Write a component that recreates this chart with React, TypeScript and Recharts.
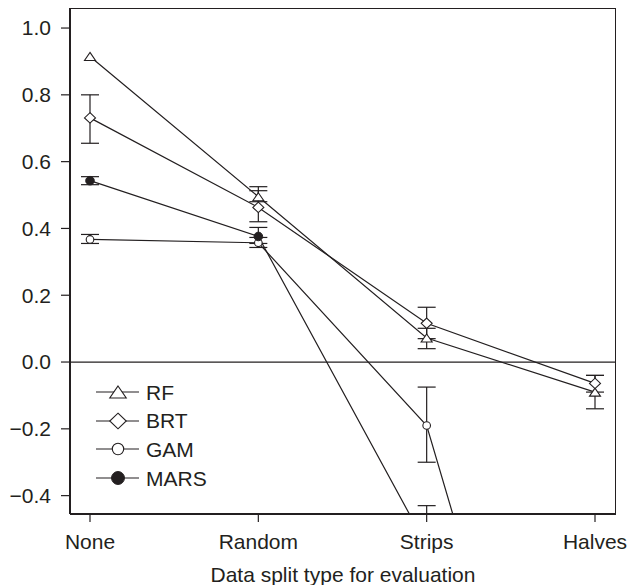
import React from 'react';
import { LineChart, Line, XAxis, YAxis, ErrorBar, ReferenceLine } from 'recharts';

const splits = ['None', 'Random', 'Strips', 'Halves'];
const yTicks = [-0.4, -0.2, 0, 0.2, 0.4, 0.6, 0.8, 1.0];

// means and error-bar bounds (null = no bar shown)
const rfMean = [0.915, 0.495, 0.072, -0.09];
const rfLow = [null, 0.48, 0.04, -0.14];
const rfHigh = [null, 0.525, 0.101, -0.04];

const brtMean = [0.731, 0.463, 0.116, -0.064];
const brtLow = [0.655, 0.42, 0.07, -0.09];
const brtHigh = [0.8, 0.513, 0.164, -0.04];

const gamMean = [0.367, 0.357, -0.19, -1.9];
const gamLow = [0.355, 0.343, -0.3, -2.0];
const gamHigh = [0.382, 0.373, -0.075, -1.8];

const marsMean = [0.543, 0.376, -0.55, -1.2];
const marsLow = [0.531, 0.355, -0.67, -1.3];
const marsHigh = [0.555, 0.403, -0.43, -1.1];

const INK = '#231f20';
const FONT = 'Liberation Sans, Arial, sans-serif';

// plot box (chart margins + axis sizes)
const BOX = { left: 70, top: 8, width: 546, height: 506 };

const errPair = (m: number, lo: number | null, hi: number | null) =>
  lo == null || hi == null ? undefined : [m - lo, hi - m];

const data = splits.map((s, i) => ({
  split: s,
  rf: rfMean[i],
  rfErr: errPair(rfMean[i], rfLow[i], rfHigh[i]),
  brt: brtMean[i],
  brtErr: errPair(brtMean[i], brtLow[i], brtHigh[i]),
  gam: gamMean[i],
  gamErr: errPair(gamMean[i], gamLow[i], gamHigh[i]),
  mars: marsMean[i],
  marsErr: errPair(marsMean[i], marsLow[i], marsHigh[i]),
}));

const Marker = ({ kind, cx, cy, s = 1 }: { kind: string; cx: number; cy: number; s?: number }) => {
  if (kind === 'tri') {
    const w = 5.5 * s, h = 4 * s;
    return <polygon points={`${cx},${cy - h} ${cx + w},${cy + h} ${cx - w},${cy + h}`} fill="#fff" stroke={INK} strokeWidth={1.1} />;
  }
  if (kind === 'dia') {
    const w = 5.5 * s, h = 5.2 * s;
    return <polygon points={`${cx},${cy - h} ${cx + w},${cy} ${cx},${cy + h} ${cx - w},${cy}`} fill="#fff" stroke={INK} strokeWidth={1.1} />;
  }
  if (kind === 'open') return <circle cx={cx} cy={cy} r={3.8 * s} fill="#fff" stroke={INK} strokeWidth={1.1} />;
  return <circle cx={cx} cy={cy} r={4.3 * s} fill={INK} stroke={INK} />;
};

const makeDot = (kind: string) => (p: any) => {
  const { cx, cy, index } = p;
  if (cx == null || cy == null || cy > BOX.top + BOX.height || cy < BOX.top) return <g key={index} />;
  return <g key={index}><Marker kind={kind} cx={cx} cy={cy} /></g>;
};

const legendItems = [
  { name: 'RF', kind: 'tri' },
  { name: 'BRT', kind: 'dia' },
  { name: 'GAM', kind: 'open' },
  { name: 'MARS', kind: 'fill' },
];

const LegendBox = () => (
  <div style={{ position: 'absolute', left: 96, top: 378, fontFamily: FONT, fontSize: 21, color: INK, lineHeight: 1 }}>
    {legendItems.map((it) => (
      <div key={it.name} style={{ display: 'flex', alignItems: 'center', height: 28.6 }}>
        <svg width={46} height={20}>
          <line x1={0} y1={10} x2={43} y2={10} stroke={INK} strokeWidth={1.2} />
          <Marker kind={it.kind} cx={22} cy={10} s={1.5} />
        </svg>
        <span style={{ marginLeft: 4 }}>{it.name}</span>
      </div>
    ))}
  </div>
);

const fmt = (v: number) => (v < 0 ? '\u2212' + Math.abs(v).toFixed(1) : v.toFixed(1));

const series = [
  { key: 'rf', err: 'rfErr', kind: 'tri' },
  { key: 'brt', err: 'brtErr', kind: 'dia' },
  { key: 'gam', err: 'gamErr', kind: 'open' },
  { key: 'mars', err: 'marsErr', kind: 'fill' },
];

export default function App() {
  const domain: [number, number] = [-0.455, 1.06];
  return (
    <div style={{ position: 'absolute', left: 0, top: 0, width: 630, height: 585, background: '#fff' }}>
      <style>{`.recharts-errorBar, .recharts-errorBars { clip-path: url(#plotBoxClip); }`}</style>
      <svg width={0} height={0} style={{ position: 'absolute' }}>
        <defs>
          <clipPath id="plotBoxClip" clipPathUnits="userSpaceOnUse">
            <rect x={BOX.left} y={BOX.top} width={BOX.width} height={BOX.height} />
          </clipPath>
        </defs>
      </svg>
      <LineChart width={630} height={585} data={data} margin={{ top: 8, right: 14, left: 0, bottom: 0 }}>
        <XAxis
          dataKey="split"
          height={71}
          padding={{ left: 20, right: 21 }}
          stroke={INK}
          strokeWidth={2}
          tickSize={8}
          tickMargin={12}
          tick={{ fill: INK, fontSize: 21, fontFamily: FONT }}
          tickLine={{ stroke: INK, strokeWidth: 1.2 }}
          label={{ value: 'Data split type for evaluation', position: 'insideBottom', offset: 3, fill: INK, fontSize: 21, fontFamily: FONT }}
        />
        <YAxis
          domain={domain}
          allowDataOverflow
          ticks={yTicks}
          width={70}
          stroke={INK}
          strokeWidth={2}
          tickSize={9}
          tickMargin={10}
          tickFormatter={fmt}
          tick={{ fill: INK, fontSize: 21, fontFamily: FONT }}
          tickLine={{ stroke: INK, strokeWidth: 1.2 }}
        />
        <ReferenceLine y={0} stroke={INK} strokeWidth={1.2} />
        {series.map((s) => (
          <Line
            key={s.key}
            dataKey={s.key}
            stroke={INK}
            strokeWidth={1.2}
            dot={makeDot(s.kind)}
            activeDot={false}
            isAnimationActive={false}
          >
            <ErrorBar dataKey={s.err} width={9} stroke={INK} strokeWidth={1.2} isAnimationActive={false} />
          </Line>
        ))}
      </LineChart>
      <div
        style={{
          position: 'absolute',
          left: BOX.left,
          top: BOX.top,
          width: BOX.width,
          height: BOX.height,
          borderTop: `1px solid ${INK}`,
          borderRight: `1px solid ${INK}`,
          boxSizing: 'border-box',
          pointerEvents: 'none',
        }}
      />
      <LegendBox />
    </div>
  );
}
